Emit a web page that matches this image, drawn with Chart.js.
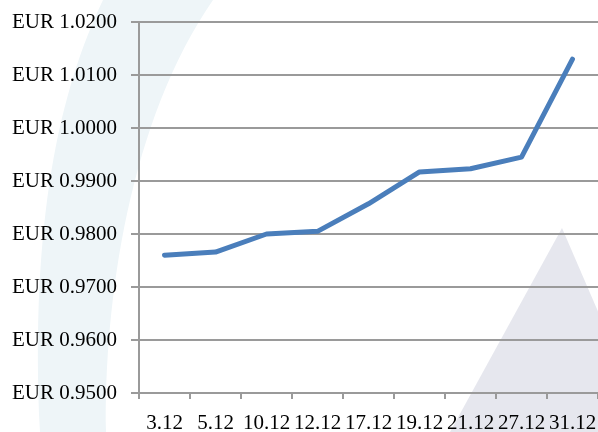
<!DOCTYPE html>
<html>
<head>
<meta charset="utf-8">
<title>EUR rate</title>
<script src="https://cdn.jsdelivr.net/npm/chart.js@4.4.1/dist/chart.umd.min.js"></script>
<style>
    html, body { margin: 0; padding: 0; background: #ffffff; }
    #lineChart { display: block; }
</style>
</head>
<body>
<canvas id="lineChart" width="598" height="432"></canvas>
<script>
// dates and rates
const dates = ['3.12', '5.12', '10.12', '12.12', '17.12', '19.12', '21.12', '27.12', '31.12'];
const rates = [0.9760, 0.9766, 0.9800, 0.9805, 0.9857, 0.9917, 0.9923, 0.9945, 1.0130];

const yMin = 0.95;
const yMax = 1.02;
const yStep = 0.01;

const labelFont = { family: "'Liberation Serif', 'Times New Roman', serif", size: 21 };
const gridGray = '#9a9a9a';

document.addEventListener('DOMContentLoaded', function() {
    const lineChart = document.getElementById('lineChart');

    // background watermark (light swoosh on the left, grey peak on the right)
    const watermark = {
        id: 'watermark',
        beforeDraw(chart) {
            const ctx = chart.ctx;
            ctx.save();
            ctx.fillStyle = '#eef5f8';
            ctx.beginPath();
            ctx.moveTo(103, 0);
            ctx.bezierCurveTo(60, 90, 30, 220, 40, 432);
            ctx.lineTo(106, 432);
            ctx.bezierCurveTo(104, 300, 130, 120, 213, 0);
            ctx.closePath();
            ctx.fill();

            ctx.fillStyle = '#e6e7ee';
            ctx.beginPath();
            ctx.moveTo(562, 228);
            ctx.lineTo(650, 432);
            ctx.lineTo(450, 432);
            ctx.closePath();
            ctx.fill();
            ctx.restore();
        }
    };

    new Chart(lineChart, {
        type: 'line',
        data: {
            labels: dates,
            datasets: [{
                label: 'EUR',
                data: rates,
                borderColor: '#4a7ebb',
                borderWidth: 5,
                borderCapStyle: 'round',
                borderJoinStyle: 'round',
                pointRadius: 0,
                pointHoverRadius: 0,
                tension: 0,
                fill: false
            }]
        },
        options: {
            responsive: false,
            animation: false,
            layout: { padding: { top: 22, right: 0, bottom: 0, left: 0 } },
            plugins: {
                legend: { display: false },
                tooltip: { enabled: false }
            },
            scales: {
                x: {
                    offset: true,
                    grid: {
                        display: true,
                        offset: true,
                        drawOnChartArea: false,
                        drawTicks: true,
                        tickLength: 6,
                        color: gridGray,
                        lineWidth: 2
                    },
                    border: { display: true, color: gridGray, width: 2 },
                    ticks: {
                        color: '#000000',
                        font: labelFont,
                        padding: 12,
                        autoSkip: false,
                        maxRotation: 0,
                        minRotation: 0
                    },
                    afterFit(scale) {
                        scale.height = 39;
                        scale.paddingLeft = 0;
                        scale.paddingRight = 0;
                    }
                },
                y: {
                    min: yMin,
                    max: yMax,
                    grid: {
                        color: gridGray,
                        lineWidth: 2,
                        tickLength: 8
                    },
                    border: { display: true, color: gridGray, width: 2 },
                    ticks: {
                        stepSize: yStep,
                        color: '#000000',
                        font: labelFont,
                        padding: 14,
                        callback: function(value) {
                            return 'EUR ' + Number(value).toFixed(4);
                        }
                    },
                    afterFit(scale) {
                        scale.width = 139;
                        scale.paddingTop = 0;
                        scale.paddingBottom = 0;
                    }
                }
            }
        },
        plugins: [watermark]
    });
});
</script>
</body>
</html>
